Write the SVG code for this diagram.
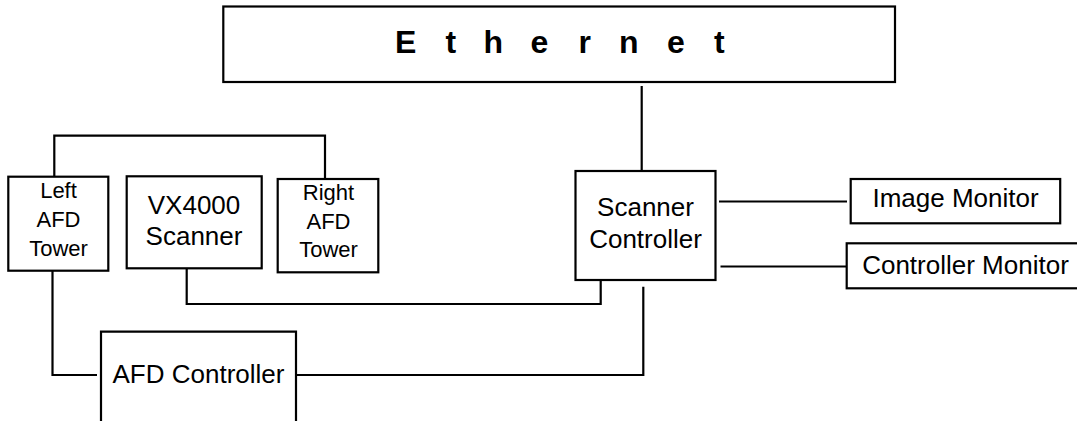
<svg xmlns="http://www.w3.org/2000/svg" width="1077" height="421" viewBox="0 0 1077 421">
<style>
.box{fill:#fff;stroke:#000;stroke-width:2.2}
.ln{fill:none;stroke:#000;stroke-width:2.2}
.t{font-family:"Liberation Sans",Arial,sans-serif;font-size:26px;fill:#000;text-anchor:middle}
.s{font-size:22px}
.eth{font-family:"Liberation Sans",Arial,sans-serif;font-size:32px;font-weight:bold;fill:#000}
</style>
<rect width="1077" height="421" fill="#fff"/>
<g id="connectors">
<path class="ln" d="M54.3 177 V135.7 H325 V179"/>
<path class="ln" d="M641.7 86 V171"/>
<path class="ln" d="M186.7 268.5 V304 H600.7 V280.5"/>
<path class="ln" d="M52.5 271 V375 H97"/>
<path class="ln" d="M297 375 H643.3 V286.7"/>
<path class="ln" d="M719 201.5 H847"/>
<path class="ln" d="M720.5 266.5 H846.7"/>
</g>
<g id="ethernet">
<rect class="box" x="223.3" y="6.5" width="671.7" height="75.5"/>
<text class="eth" x="395 445.5 483.5 530.5 578.5 619 667 714" y="53.3">Ethernet</text>
</g>
<g id="left-afd-tower">
<rect class="box" x="8.3" y="176.7" width="100" height="94"/>
<text class="t s" x="58.5" y="197.5">Left</text>
<text class="t s" x="58.5" y="226.7">AFD</text>
<text class="t s" x="58.5" y="255.5">Tower</text>
</g>
<g id="vx4000-scanner">
<rect class="box" x="126.7" y="176.3" width="135" height="92"/>
<text class="t" x="194" y="214">VX4000</text>
<text class="t" x="194" y="245">Scanner</text>
</g>
<g id="right-afd-tower">
<rect class="box" x="277.7" y="179" width="100.6" height="93.3"/>
<text class="t s" x="328.5" y="200">Right</text>
<text class="t s" x="328.5" y="228.5">AFD</text>
<text class="t s" x="328.5" y="256.7">Tower</text>
</g>
<g id="scanner-controller">
<rect class="box" x="575.5" y="171" width="140" height="109"/>
<text class="t" x="645.5" y="215.7">Scanner</text>
<text class="t" x="645.5" y="247.7">Controller</text>
</g>
<g id="image-monitor">
<rect class="box" x="850.7" y="179" width="209.5" height="44.3"/>
<text class="t" x="955.5" y="207.3">Image Monitor</text>
</g>
<g id="controller-monitor">
<rect class="box" x="846.7" y="243.3" width="240" height="45"/>
<text class="t" x="965.5" y="274">Controller Monitor</text>
</g>
<g id="afd-controller">
<path class="box" d="M101 422 V331.7 H296 V422"/>
<text class="t" x="198.5" y="383.3">AFD Controller</text>
</g>
</svg>
